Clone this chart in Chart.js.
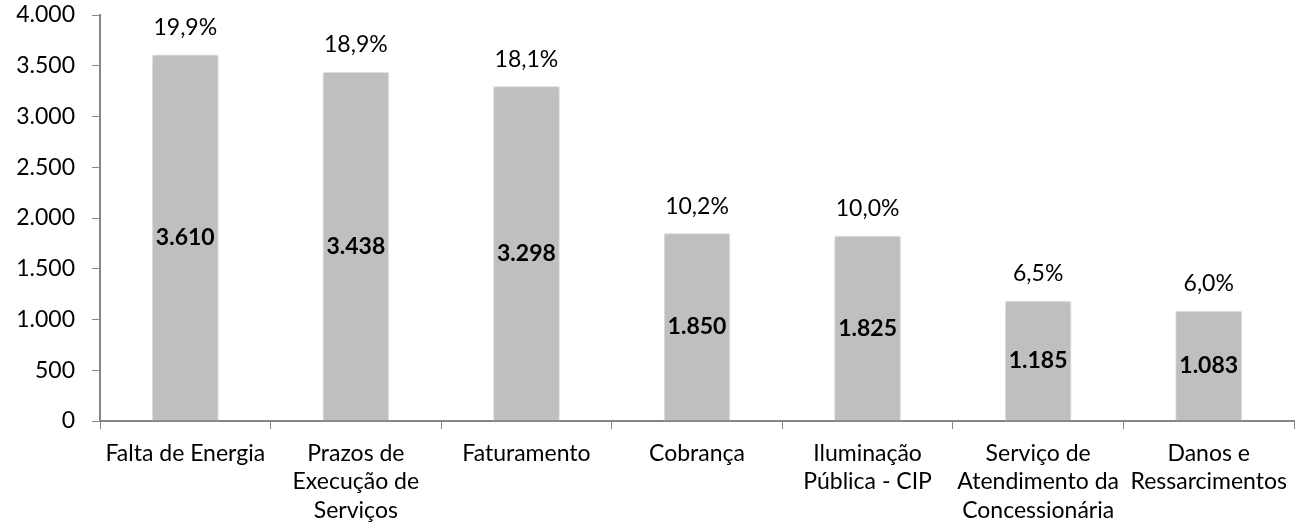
<!DOCTYPE html>
<html lang="pt-BR">
<head>
    <meta charset="UTF-8">
    <title>Reclamações</title>
    <script src="https://cdn.jsdelivr.net/npm/chart.js"></script>
    <style>
        body {
            margin: 0;
            background: #ffffff;
        }
        .chart-box {
            position: relative;
            width: 1305px;
            height: 523px;
        }
    </style>
</head>
<body>
    <div class="chart-box">
        <canvas id="reclamacoesChart"></canvas>
    </div>
    <script>
        const categorias = [
            'Falta de Energia',
            ['Prazos de', 'Execução de', 'Serviços'],
            'Faturamento',
            'Cobrança',
            ['Iluminação', 'Pública - CIP'],
            ['Serviço de', 'Atendimento da', 'Concessionária'],
            ['Danos e', 'Ressarcimentos']
        ];
        const quantidades = [3610, 3438, 3298, 1850, 1825, 1185, 1083];
        const percentuais = ['19,9%', '18,9%', '18,1%', '10,2%', '10,0%', '6,5%', '6,0%'];

        const fonte = 'Lato, "Open Sans", sans-serif';
        const corEixo = '#868686';

        // 4000 -> "4.000"
        const formatarNumero = v => String(v).replace(/\B(?=(\d{3})+(?!\d))/g, '.');

        // sombra leve atrás das barras
        const sombraBarras = {
            id: 'sombraBarras',
            beforeDatasetsDraw(chart) {
                const ctx = chart.ctx;
                ctx.save();
                ctx.shadowColor = 'rgba(0, 0, 0, 0.22)';
                ctx.shadowBlur = 5;
            },
            afterDatasetsDraw(chart) {
                chart.ctx.restore();
            }
        };

        // rótulos: valor no meio da barra, percentual acima
        const rotulos = {
            id: 'rotulos',
            afterDatasetsDraw(chart) {
                const ctx = chart.ctx;
                const meta = chart.getDatasetMeta(0);
                ctx.save();
                ctx.fillStyle = '#000000';
                ctx.textAlign = 'center';
                ctx.textBaseline = 'middle';
                meta.data.forEach((bar, i) => {
                    ctx.font = 'bold 23px ' + fonte;
                    ctx.fillText(formatarNumero(quantidades[i]), bar.x, (bar.y + bar.base) / 2);
                    ctx.font = '23px ' + fonte;
                    ctx.fillText(percentuais[i], bar.x, bar.y - 27);
                });
                ctx.restore();
            }
        };

        new Chart(document.getElementById('reclamacoesChart').getContext('2d'), {
            type: 'bar',
            data: {
                labels: categorias,
                datasets: [{
                    data: quantidades,
                    backgroundColor: '#bfbfbf',
                    borderColor: '#f2f2f2',
                    borderWidth: 1,
                    barPercentage: 0.39,
                    categoryPercentage: 1
                }]
            },
            options: {
                responsive: true,
                maintainAspectRatio: false,
                animation: false,
                layout: {
                    padding: { top: 0, right: 11, left: 0, bottom: 0 }
                },
                plugins: {
                    legend: { display: false },
                    tooltip: { enabled: false }
                },
                scales: {
                    x: {
                        grid: {
                            display: true,
                            offset: true,
                            drawOnChartArea: false,
                            color: corEixo,
                            tickLength: 8
                        },
                        border: { color: corEixo, width: 2 },
                        ticks: {
                            color: '#000000',
                            font: { family: fonte, size: 23, lineHeight: 1.24 },
                            padding: 10,
                            maxRotation: 0,
                            autoSkip: false
                        },
                        afterFit: scale => { scale.height = 102; }
                    },
                    y: {
                        min: 0,
                        max: 4000,
                        grid: {
                            display: true,
                            drawOnChartArea: false,
                            color: corEixo,
                            tickLength: 8
                        },
                        border: { color: corEixo, width: 2 },
                        ticks: {
                            stepSize: 500,
                            color: '#000000',
                            font: { family: fonte, size: 23 },
                            padding: 17,
                            callback: v => formatarNumero(v)
                        },
                        afterFit: scale => {
                            scale.width = 100;
                            scale.paddingTop = 15;
                        }
                    }
                }
            },
            plugins: [sombraBarras, rotulos]
        });
    </script>
</body>
</html>
